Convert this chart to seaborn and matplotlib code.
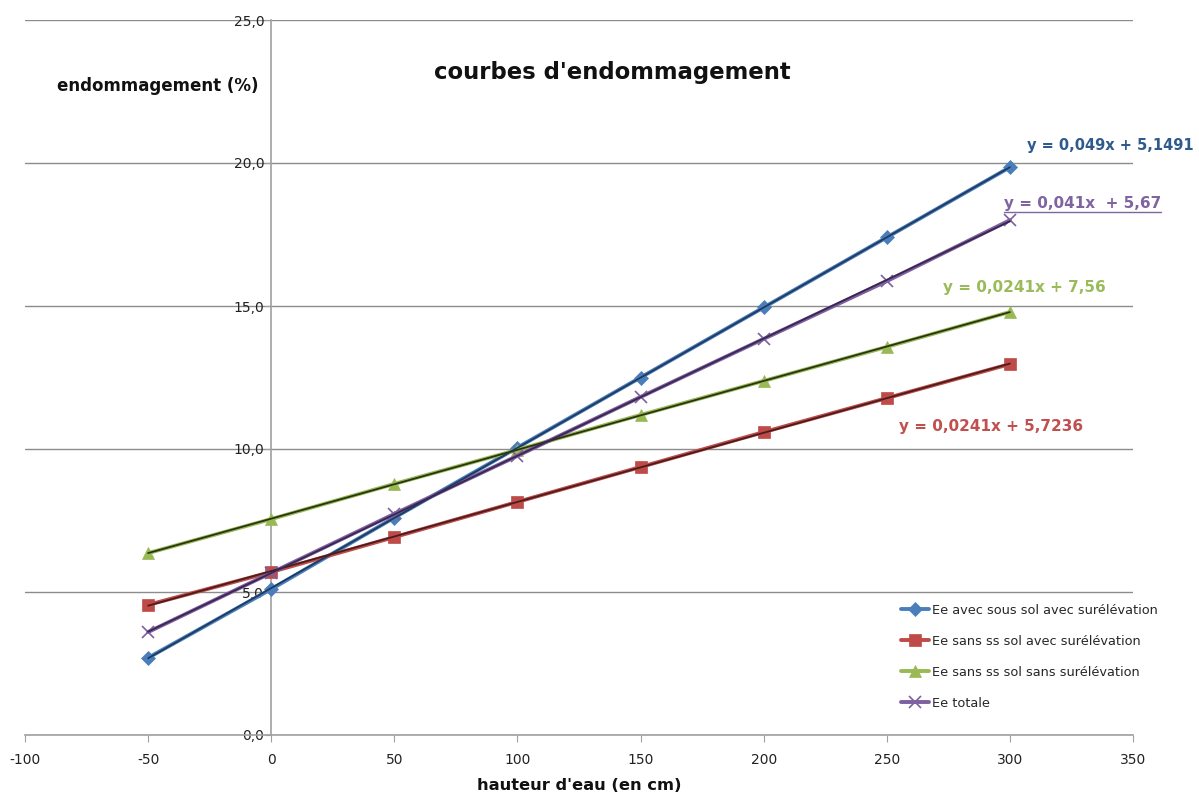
import numpy as np
import pandas as pd
import matplotlib
matplotlib.use("Agg")
import matplotlib.pyplot as plt
from matplotlib.lines import Line2D
import seaborn as sns

# hauteur d'eau (cm)
hauteur = [-50, 0, 50, 100, 150, 200, 250, 300]

# endommagement (%) per series
ee_avec_ss_avec = [2.7, 5.1, 7.6, 10.05, 12.5, 14.95, 17.4, 19.85]
ee_sans_ss_avec = [4.55, 5.7, 6.92, 8.15, 9.37, 10.59, 11.78, 12.97]
ee_sans_ss_sans = [6.36, 7.55, 8.78, 9.97, 11.19, 12.38, 13.57, 14.79]
ee_totale = [3.6, 5.67, 7.73, 9.76, 11.82, 13.85, 15.87, 18.0]

labels = ["Ee avec sous sol avec surélévation",
          "Ee sans ss sol avec surélévation",
          "Ee sans ss sol sans surélévation",
          "Ee totale"]
equations = ["y = 0,049x + 5,1491", "y = 0,0241x + 5,7236",
             "y = 0,0241x + 7,56", "y = 0,041x  + 5,67"]

colors = ["#4A7EBB", "#BE4B48", "#98B954", "#7D60A0"]
trend_colors = ["#1F3A60", "#4A1C1C", "#2A3312", "#3A2650"]
eq_colors = ["#2E5A8C", "#C0504D", "#9BBB59", "#8064A2"]
markers = ["D", "s", "^", "x"]
msizes = [7, 8, 9, 9]
# equation label anchor (data coords)
eq_pos = [(307, 20.6), (255, 10.77), (273, 15.66), (297.5, 18.6)]
eq_sizes = [10.5, 11, 11, 11]

sns.set_style("white")
plt.rcParams["font.family"] = ["DejaVu Sans"]
plt.rcParams["axes.unicode_minus"] = False

fig = plt.figure(figsize=(11.99, 7.94), dpi=100)
ax = fig.add_axes([25 / 1199, 59 / 794, 1108 / 1199, 715 / 794])

series = [ee_avec_ss_avec, ee_sans_ss_avec, ee_sans_ss_sans, ee_totale]
df = pd.DataFrame({"h": hauteur})
for lab, vals in zip(labels, series):
    df[lab] = vals

handles = []
for i, lab in enumerate(labels):
    mew = 1.2 if markers[i] == "x" else 0.5
    sns.lineplot(data=df, x="h", y=lab, ax=ax, color=colors[i], lw=2.8,
                 marker=markers[i], markersize=msizes[i],
                 markeredgecolor=colors[i], markeredgewidth=mew,
                 zorder=3 + i)
    handles.append(Line2D([], [], color=colors[i], lw=2.8, marker=markers[i],
                          markersize=msizes[i], markeredgecolor=colors[i],
                          markeredgewidth=mew))

# linear trend lines
for i, lab in enumerate(labels):
    sns.regplot(data=df, x="h", y=lab, ax=ax, scatter=False, ci=None,
                truncate=True, line_kws=dict(color=trend_colors[i], lw=1.3, zorder=8))

ax.set_xlim(-100, 350)
ax.set_ylim(0, 25)
ax.set_xticks(np.arange(-100, 351, 50))
ax.set_yticks(np.arange(0, 25.1, 5))
ax.yaxis.set_major_formatter(plt.FuncFormatter(lambda v, p: f"{v:.1f}".replace(".", ",")))
ax.grid(axis="y", color="#8c8c8c", lw=1)
ax.set_axisbelow(True)

for s in ["top", "right"]:
    ax.spines[s].set_visible(False)
ax.spines["left"].set_position(("data", 0))
ax.spines["left"].set_color("#a0a0a0")
ax.spines["bottom"].set_color("#a0a0a0")
ax.spines["left"].set_linewidth(1.2)
ax.spines["bottom"].set_linewidth(1.2)
ax.tick_params(axis="x", direction="out", length=5, color="#a0a0a0",
               labelsize=10, labelcolor="#222222", pad=8, bottom=True)
ax.tick_params(axis="y", direction="out", length=4, color="#a0a0a0",
               labelsize=10, labelcolor="#222222", pad=1, left=True)

ax.set_ylabel("endommagement (%)", rotation=0, fontsize=12, fontweight="bold",
              color="#111111", ha="center", va="center")
ax.yaxis.set_label_coords(0.12, 0.908)
ax.set_xlabel("hauteur d'eau (en cm)", fontsize=11.7, fontweight="bold",
              color="#111111", ha="center", va="center")
ax.xaxis.set_label_coords(0.5, -0.07)

ax.text(0.53, 0.926, "courbes d'endommagement", transform=ax.transAxes,
        ha="center", va="center", fontsize=16.4, fontweight="bold", color="#111111")

eq_texts = []
for i in range(4):
    t = ax.text(eq_pos[i][0], eq_pos[i][1], equations[i], color=eq_colors[i],
                fontsize=eq_sizes[i], fontweight="bold", ha="left", va="center", zorder=10)
    eq_texts.append(t)

ax.legend(handles, labels, loc="upper left", bbox_to_anchor=(0.78, 0.2),
          frameon=False, fontsize=9.3, labelspacing=1.4, handlelength=2.2,
          handletextpad=0.2)

# underline purple equation
fig.canvas.draw()
bb = eq_texts[3].get_window_extent()
inv = fig.transFigure.inverted()
(x0, y0), (x1, _) = inv.transform([(bb.x0, bb.y0), (bb.x1, bb.y0)])
fig.add_artist(Line2D([x0, x1], [y0 - 0.002, y0 - 0.002], color=eq_colors[3], lw=1))

fig.savefig("out.png", dpi=100)
